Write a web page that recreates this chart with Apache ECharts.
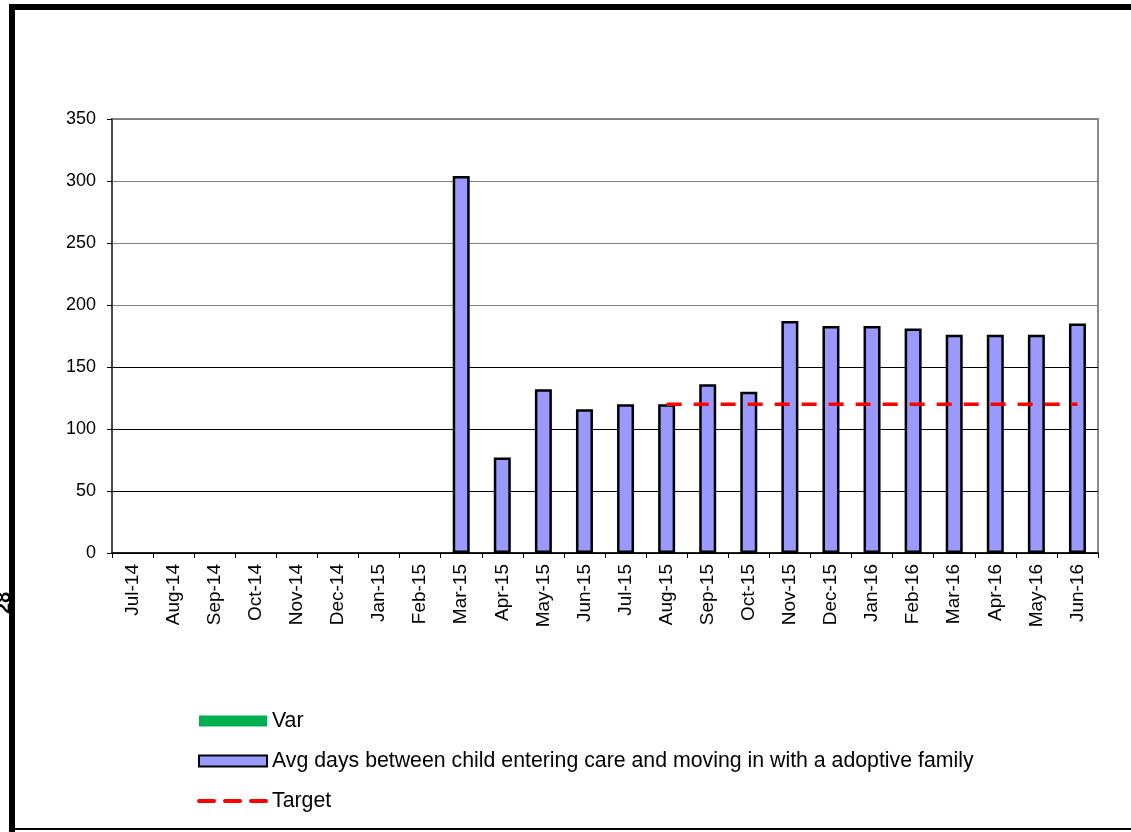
<!DOCTYPE html>
<html lang="en">
<head>
    <meta charset="UTF-8">
    <title>Adoption days</title>
    <style>
        html, body {
            margin: 0;
            padding: 0;
            background: #fff;
        }
        #main {
            width: 1131px;
            height: 832px;
        }
    </style>
</head>
<body>
    <div id="main"></div>

    <script src="https://cdn.jsdelivr.net/npm/echarts@6/dist/echarts.min.js"></script>
    <script>
        // data
        var months = ['Jul-14', 'Aug-14', 'Sep-14', 'Oct-14', 'Nov-14', 'Dec-14', 'Jan-15', 'Feb-15',
            'Mar-15', 'Apr-15', 'May-15', 'Jun-15', 'Jul-15', 'Aug-15', 'Sep-15', 'Oct-15',
            'Nov-15', 'Dec-15', 'Jan-16', 'Feb-16', 'Mar-16', 'Apr-16', 'May-16', 'Jun-16'];
        var avgDays = [null, null, null, null, null, null, null, null,
            304, 77, 132, 116, 120, 120, 136, 130,
            187, 183, 183, 181, 176, 176, 176, 185];
        var target = [null, null, null, null, null, null, null, null,
            null, null, null, null, null, 120, 120, 120,
            120, 120, 120, 120, 120, 120, 120, 120];
        var varData = [];
        var yTicks = [0, 50, 100, 150, 200, 250, 300, 350];

        var avgName = 'Avg days between child entering care and moving in with a adoptive family';
        var font = '"Liberation Sans", Arial, sans-serif';

        var myChart = echarts.init(document.getElementById('main'));

        var option = {
            animation: false,
            textStyle: { fontFamily: font },
            grid: {
                left: 112,
                top: 119,
                right: 33,
                bottom: 279,
                show: true,
                borderColor: '#888',
                borderWidth: 2
            },
            xAxis: {
                type: 'category',
                data: months,
                axisLine: { lineStyle: { color: '#000', width: 1.5 } },
                axisTick: { show: true, length: 5, lineStyle: { color: '#000' } },
                axisLabel: {
                    rotate: 90,
                    interval: 0,
                    margin: 11,
                    color: '#000',
                    fontSize: 19,
                    fontFamily: font
                },
                splitLine: { show: false }
            },
            yAxis: {
                type: 'value',
                min: yTicks[0],
                max: yTicks[yTicks.length - 1],
                interval: 50,
                axisLine: { show: true, lineStyle: { color: '#333', width: 1.5 } },
                axisTick: { show: true, length: 5, lineStyle: { color: '#000' } },
                axisLabel: {
                    margin: 16,
                    color: '#000',
                    fontSize: 18,
                    fontFamily: font
                },
                splitLine: {
                    show: true,
                    lineStyle: {
                        width: 1,
                        color: ['#000', '#000', '#000', '#000', '#808080', '#808080', '#808080', '#808080']
                    }
                }
            },
            legend: {
                orient: 'vertical',
                left: 197,
                top: 710,
                padding: 0,
                itemWidth: 68,
                itemHeight: 11,
                itemGap: 18,
                itemTextGap: 8,
                textStyle: { color: '#000', fontSize: 21.3, lineHeight: 22, fontFamily: font },
                data: [
                    { name: 'Var', icon: 'rect' },
                    { name: avgName, icon: 'rect' },
                    {
                        name: 'Target',
                        itemStyle: { opacity: 0 },
                        lineStyle: { width: 4, type: [15, 11], cap: 'round' }
                    }
                ]
            },
            series: [
                {
                    name: 'Var',
                    type: 'line',
                    data: varData,
                    symbol: 'none',
                    itemStyle: { color: '#00B050' },
                    lineStyle: { color: '#00B050' }
                },
                {
                    name: avgName,
                    type: 'bar',
                    data: avgDays,
                    barWidth: 17,
                    itemStyle: {
                        color: '#9999FF',
                        borderColor: '#000',
                        borderWidth: 2.5
                    }
                },
                {
                    name: 'Target',
                    type: 'line',
                    data: target,
                    symbol: 'none',
                    z: 5,
                    lineStyle: {
                        color: '#FF0000',
                        width: 3.5,
                        type: [15, 12]
                    },
                    itemStyle: { color: '#FF0000' }
                }
            ],
            graphic: [
                // page frame
                { type: 'rect', shape: { x: 9, y: 4, width: 1122, height: 6 }, style: { fill: '#000' } },
                { type: 'rect', shape: { x: 9, y: 4, width: 6, height: 828 }, style: { fill: '#000' } },
                { type: 'rect', shape: { x: 9, y: 828, width: 1122, height: 2 }, style: { fill: '#000' } },
                {
                    type: 'text',
                    x: 4,
                    y: 603,
                    rotation: Math.PI / 2,
                    style: {
                        text: '28',
                        fill: '#000',
                        font: 'bold 20px "Liberation Sans", Arial, sans-serif',
                        align: 'center',
                        verticalAlign: 'middle'
                    }
                }
            ]
        };

        myChart.setOption(option);
    </script>
</body>
</html>
